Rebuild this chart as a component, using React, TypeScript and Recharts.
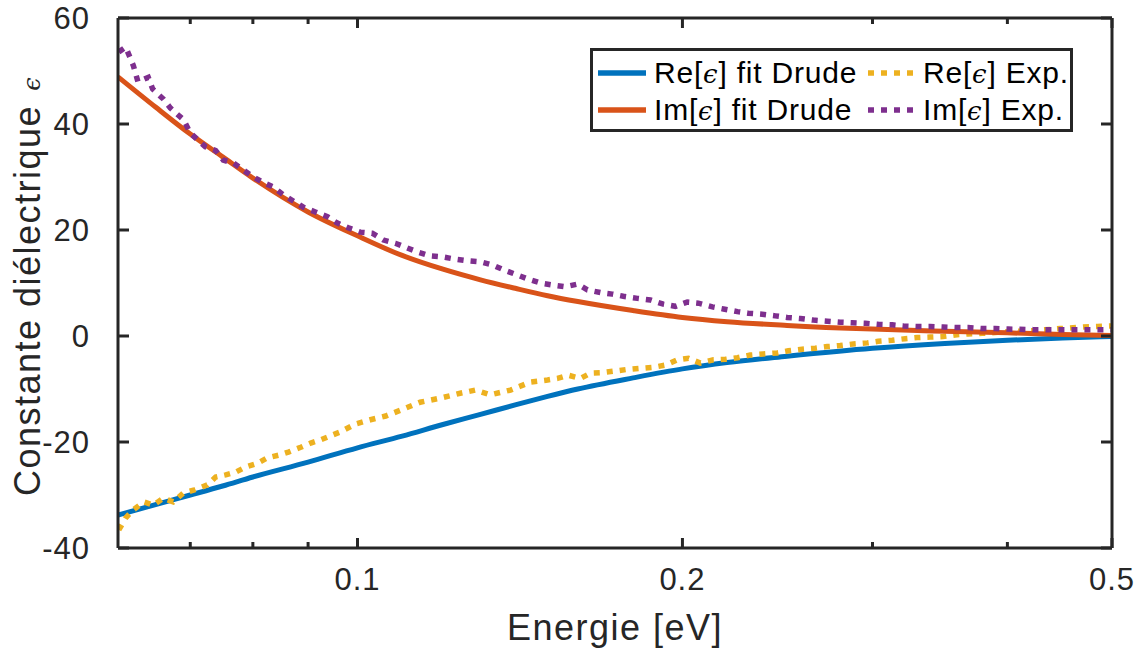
import { LineChart, Line, XAxis, YAxis, Legend, Label } from "recharts";

// Drude fit, sampled on a common energy grid (eV)
const FIT_E = [0.06, 0.065, 0.07, 0.075, 0.08, 0.09, 0.1, 0.11, 0.12, 0.13, 0.14, 0.15, 0.16, 0.18, 0.2, 0.22, 0.25, 0.3, 0.35, 0.4, 0.45, 0.5];
const RE_FIT = [-33.8, -31.8, -30.0, -28.3, -26.6, -23.8, -21.1, -18.9, -16.7, -14.8, -13.0, -11.4, -10.0, -7.9, -6.2, -5.0, -3.8, -2.3, -1.4, -0.8, -0.4, -0.1];
const IM_FIT = [48.9, 43.2, 38.1, 33.8, 29.8, 23.4, 18.9, 15.2, 12.6, 10.6, 9.0, 7.6, 6.5, 4.8, 3.5, 2.7, 2.0, 1.3, 0.9, 0.6, 0.3, 0.1];

// experimental points
const RE_EXP_E = [0.0601, 0.061, 0.062, 0.0634, 0.0647, 0.0661, 0.0675, 0.069, 0.0705, 0.0726, 0.0739, 0.0755, 0.0771, 0.0788, 0.0808, 0.0825, 0.0845, 0.0863, 0.0886, 0.0905, 0.0924, 0.0964, 0.0996, 0.1028, 0.1062, 0.1096, 0.1143, 0.1194, 0.1245, 0.1286, 0.1328, 0.1386, 0.1446, 0.15, 0.1532, 0.1568, 0.1609, 0.1644, 0.1686, 0.1734, 0.1778, 0.1828, 0.1879, 0.1928, 0.1978, 0.2026, 0.2078, 0.2137, 0.2192, 0.2249, 0.2311, 0.2376, 0.2448, 0.2507, 0.2582, 0.2655, 0.2724, 0.28, 0.288, 0.2967, 0.3037, 0.3129, 0.3217, 0.33, 0.3393, 0.3488, 0.3578, 0.3679, 0.3791, 0.4006, 0.4227, 0.4476, 0.4701, 0.4844, 0.5];
const RE_EXP = [-36.6, -34.3, -32.8, -31.3, -31.9, -30.6, -31.3, -29.6, -29.1, -28.1, -26.6, -26.2, -25.7, -24.7, -24.0, -23.0, -22.5, -21.9, -21.0, -20.2, -19.6, -18.1, -16.6, -15.8, -15.1, -14.0, -12.5, -11.7, -10.8, -10.2, -11.1, -10.2, -8.7, -8.3, -8.0, -7.4, -8.0, -7.0, -6.9, -6.6, -6.3, -6.1, -5.9, -5.5, -4.5, -4.2, -5.1, -4.5, -4.4, -4.1, -3.6, -3.4, -3.2, -2.8, -2.5, -2.3, -2.0, -1.8, -1.5, -1.3, -1.0, -0.8, -0.5, -0.3, -0.2, -0.1, 0.2, 0.4, 0.5, 0.8, 1.0, 1.4, 1.7, 1.8, 1.9];

const IM_EXP_E = [0.0601, 0.061, 0.062, 0.0626, 0.064, 0.0646, 0.0661, 0.0671, 0.069, 0.07, 0.0723, 0.0739, 0.0751, 0.0768, 0.0784, 0.0801, 0.0819, 0.0836, 0.0854, 0.0891, 0.0914, 0.0938, 0.0958, 0.0981, 0.1006, 0.1032, 0.1057, 0.1084, 0.1112, 0.1139, 0.1168, 0.1201, 0.1232, 0.1264, 0.13, 0.1334, 0.1365, 0.1407, 0.144, 0.1477, 0.1519, 0.1558, 0.1599, 0.1633, 0.1679, 0.1722, 0.1763, 0.1817, 0.1868, 0.192, 0.197, 0.2021, 0.2069, 0.2132, 0.2183, 0.2249, 0.2301, 0.2371, 0.2438, 0.2501, 0.2572, 0.2644, 0.2724, 0.28, 0.2873, 0.2954, 0.3037, 0.3129, 0.3204, 0.33, 0.3393, 0.3488, 0.3594, 0.3679, 0.3791, 0.3897, 0.4006, 0.4227, 0.4476, 0.4741, 0.5];
const IM_EXP = [53.6, 54.5, 51, 48, 48.8, 46.6, 44.7, 43, 40.8, 38.3, 35.7, 35, 33.2, 32.6, 31.3, 30, 28.9, 28.1, 26.6, 24.3, 23.4, 22.5, 21.3, 20.4, 19.6, 19.4, 18.1, 17.5, 16.6, 15.8, 15.1, 14.9, 14.5, 14.2, 14.0, 13.4, 12.5, 11.5, 10.7, 10.0, 9.6, 9.3, 9.8, 8.7, 8.2, 7.9, 7.5, 7.1, 6.8, 6.0, 5.6, 6.4, 6.2, 5.5, 5.1, 4.6, 4.3, 4.1, 3.8, 3.5, 3.3, 3.0, 2.8, 2.6, 2.5, 2.4, 2.2, 2.1, 1.9, 1.8, 1.8, 1.7, 1.6, 1.6, 1.4, 1.4, 1.3, 1.2, 1.2, 1.2, 1.2];

const X_TICKS = [0.07, 0.08, 0.09, 0.1, 0.2, 0.3, 0.4, 0.5];
const X_LABELED = [0.1, 0.2, 0.5];
const Y_TICKS = [-40, -20, 0, 20, 40, 60];

const FONT = '"Liberation Sans", Arial, Helvetica, sans-serif';
const EPS_FONT = '"DejaVu Serif", serif';
const AXIS = "#262626";
const TEXT = "#262626";
const COLORS = { reFit: "#0072BD", imFit: "#D95319", reExp: "#EDB120", imExp: "#7E2F8E" };
const DOTS = "6 7";

const pairs = (xs: number[], ys: number[]) => xs.map((e, i) => ({ e, v: ys[i] }));

const reFit = pairs(FIT_E, RE_FIT);
const imFit = pairs(FIT_E, IM_FIT);
const reExp = pairs(RE_EXP_E, RE_EXP);
const imExp = pairs(IM_EXP_E, IM_EXP);

// MATLAB-style inward ticks; labels only on the bottom / left axes
const xTick = (side: "bottom" | "top") => (p: any) => {
  const major = X_LABELED.includes(p.payload.value);
  const len = major ? 10 : 6;
  const dir = side === "bottom" ? -1 : 1;
  return (
    <g>
      <line x1={p.x} x2={p.x} y1={p.y} y2={p.y + dir * len} stroke={AXIS} strokeWidth={3} />
      {side === "bottom" && major && (
        <text x={p.x} y={p.y + 42} textAnchor="middle" fill={TEXT} fontSize={31} letterSpacing={1} fontFamily={FONT}>
          {p.payload.value}
        </text>
      )}
    </g>
  );
};

const yTick = (side: "left" | "right") => (p: any) => {
  const dir = side === "left" ? 1 : -1;
  return (
    <g>
      <line x1={p.x} x2={p.x + dir * 11} y1={p.y} y2={p.y} stroke={AXIS} strokeWidth={3} />
      {side === "left" && (
        <text x={p.x - 28} y={p.y + 11} textAnchor="end" fill={TEXT} fontSize={31} letterSpacing={1} fontFamily={FONT}>
          {p.payload.value}
        </text>
      )}
    </g>
  );
};

const YTitle = () => (
  <text transform="translate(40, 286) rotate(-90)" textAnchor="middle" fill={TEXT} fontFamily={FONT} fontSize={36} letterSpacing={1.5}>
    Constante diélectrique
    <tspan dx={14} fontSize={24} fontStyle="italic" fontFamily={EPS_FONT}>ϵ</tspan>
  </text>
);

const LEGEND_ROWS = [
  [
    { pre: "Re[", post: "] fit Drude", color: COLORS.reFit, dash: undefined },
    { pre: "Re[", post: "] Exp.", color: COLORS.reExp, dash: DOTS },
  ],
  [
    { pre: "Im[", post: "] fit Drude", color: COLORS.imFit, dash: undefined },
    { pre: "Im[", post: "] Exp.", color: COLORS.imExp, dash: DOTS },
  ],
];

const LegendBox = () => (
  <svg width={483} height={84} style={{ display: "block" }}>
    <rect x={1.5} y={1.5} width={480} height={81} fill="#fff" stroke={AXIS} strokeWidth={3} />
    {LEGEND_ROWS.map((row, r) =>
      row.map((it, c) => {
        const cy = r === 0 ? 25 : 62;
        const lx = c === 0 ? 8 : 278;
        const tx = c === 0 ? 64 : 333;
        return (
          <g key={`${r}-${c}`}>
            <line x1={lx} x2={lx + 48} y1={cy} y2={cy} stroke={it.color} strokeWidth={5.5} strokeDasharray={it.dash} />
            <text x={tx} y={cy + 10} fill="#000" fontFamily={FONT} fontSize={30} letterSpacing={0.8}>
              {it.pre}
              <tspan fontFamily={EPS_FONT} fontStyle="italic" fontSize={26}>ϵ</tspan>
              {it.post}
            </text>
          </g>
        );
      })
    )}
  </svg>
);

export default function App() {
  return (
    <div style={{ position: "absolute", left: 0, top: 0, width: 1142, height: 651, background: "#fff" }}>
      <LineChart width={1142} height={651} margin={{ top: 17, right: 29, bottom: 0, left: 20 }}>
        <XAxis
          dataKey="e"
          type="number"
          scale="log"
          domain={[0.06, 0.5]}
          allowDataOverflow
          ticks={X_TICKS}
          interval={0}
          height={103}
          tickSize={0}
          tickMargin={0}
          tickLine={false}
          axisLine={{ stroke: AXIS, strokeWidth: 3 }}
          tick={xTick("bottom")}
        >
          <Label
            value="Energie [eV]"
            position="insideBottom"
            offset={11}
            fill={TEXT}
            fontSize={36}
            letterSpacing={1.5}
            fontFamily={FONT}
          />
        </XAxis>
        <XAxis
          xAxisId="top"
          orientation="top"
          dataKey="e"
          type="number"
          scale="log"
          domain={[0.06, 0.5]}
          allowDataOverflow
          ticks={X_TICKS}
          interval={0}
          height={1}
          tickSize={0}
          tickMargin={0}
          tickLine={false}
          axisLine={{ stroke: AXIS, strokeWidth: 3 }}
          tick={xTick("top")}
        />
        <YAxis
          type="number"
          domain={[-40, 60]}
          allowDataOverflow
          ticks={Y_TICKS}
          interval={0}
          width={98}
          tickSize={0}
          tickMargin={0}
          tickLine={false}
          axisLine={{ stroke: AXIS, strokeWidth: 3 }}
          tick={yTick("left")}
          label={<YTitle />}
        />
        <YAxis
          yAxisId="right"
          orientation="right"
          type="number"
          domain={[-40, 60]}
          allowDataOverflow
          ticks={Y_TICKS}
          interval={0}
          width={1}
          tickSize={0}
          tickMargin={0}
          tickLine={false}
          axisLine={{ stroke: AXIS, strokeWidth: 3 }}
          tick={yTick("right")}
        />
        <Legend
          layout="vertical"
          align="center"
          verticalAlign="middle"
          wrapperStyle={{ left: 590, top: 48, width: 483, height: 84 }}
          content={() => <LegendBox />}
        />
        {/* invisible series so the mirrored box axes get a domain and render */}
        <Line xAxisId="top" yAxisId="right" data={reFit} dataKey="v" stroke="none" dot={false} legendType="none" isAnimationActive={false} />
        <Line data={reFit} dataKey="v" name="Re fit" stroke={COLORS.reFit} strokeWidth={5} dot={false} type="monotone" isAnimationActive={false} />
        <Line data={reExp} dataKey="v" name="Re exp" stroke={COLORS.reExp} strokeWidth={5.5} strokeDasharray={DOTS} dot={false} type="linear" isAnimationActive={false} />
        <Line data={imFit} dataKey="v" name="Im fit" stroke={COLORS.imFit} strokeWidth={5} dot={false} type="monotone" isAnimationActive={false} />
        <Line data={imExp} dataKey="v" name="Im exp" stroke={COLORS.imExp} strokeWidth={5.5} strokeDasharray={DOTS} dot={false} type="linear" isAnimationActive={false} />
      </LineChart>
    </div>
  );
}
